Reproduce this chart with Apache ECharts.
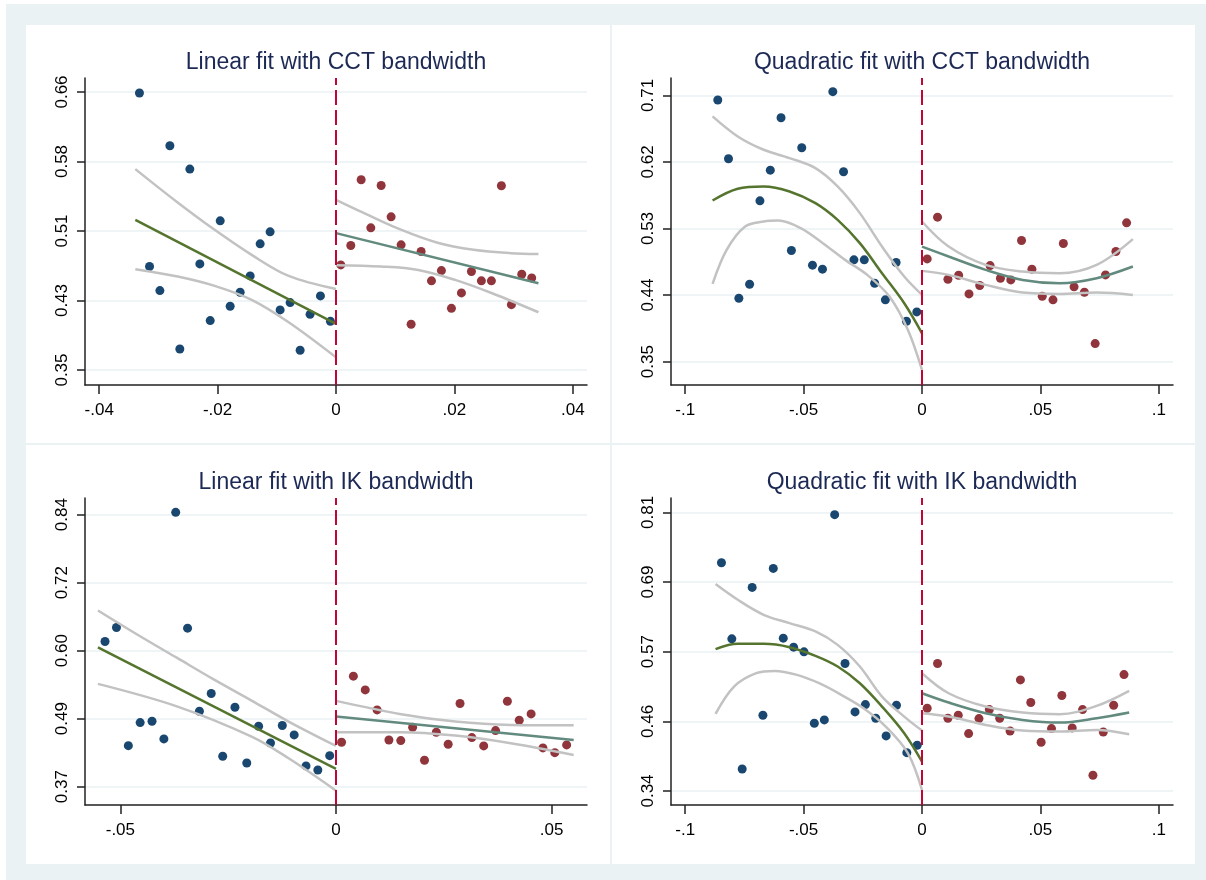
<!DOCTYPE html>
<html>
<head>
<meta charset="utf-8">
<script src="https://cdn.jsdelivr.net/npm/echarts@6/dist/echarts.min.js"></script>
<style>
  html, body { margin: 0; padding: 0; background: #fff; }
  #rd-chart { width: 1206px; height: 880px; }
</style>
</head>
<body>
<div id="rd-chart"></div>
<script>
// ---- data: [running variable, outcome] ----

// Panel 1: linear fit, CCT bandwidth
var p1Left = [[-0.0332,0.6589],[-0.0315,0.4654],[-0.02975,0.4386],[-0.02806,0.6001],[-0.02638,0.3734],[-0.02469,0.574],[-0.023,0.4683],[-0.02125,0.4051],[-0.01956,0.5163],[-0.01788,0.4211],[-0.01619,0.4367],[-0.0145,0.4549],[-0.01281,0.4907],[-0.01113,0.5041],[-0.00944,0.417],[-0.00775,0.4252],[-0.00606,0.372],[-0.00438,0.4121],[-0.00263,0.4326],[-0.00094,0.4043]];
var p1Right = [[0.00081,0.4672],[0.0025,0.4888],[0.00425,0.5621],[0.00588,0.5085],[0.00763,0.5558],[0.00931,0.5208],[0.011,0.4896],[0.01269,0.401],[0.01438,0.4821],[0.01613,0.4494],[0.01781,0.4609],[0.0195,0.4188],[0.02119,0.436],[0.02288,0.4598],[0.02456,0.4494],[0.02625,0.4494],[0.02794,0.5554],[0.02963,0.4229],[0.03138,0.4568],[0.03306,0.4527]];
var p1FitL = [[-0.0339,0.5175],[0,0.4014]];
var p1HiL = [[-0.0339,0.574],[-0.02675,0.5368],[-0.0205,0.5063],[-0.01425,0.4784],[-0.008,0.4549],[0,0.4404]];
var p1LoL = [[-0.0339,0.4624],[-0.02675,0.4542],[-0.0205,0.4438],[-0.01425,0.4282],[-0.008,0.4032],[0,0.3641]];
var p1FitR = [[0,0.5026],[0.0342,0.4468]];
var p1HiR = [[0,0.5398],[0.0045,0.5257],[0.01075,0.507],[0.017,0.4922],[0.02325,0.484],[0.0295,0.4803],[0.0342,0.4795]];
var p1LoR = [[0,0.4669],[0.007625,0.4654],[0.013875,0.4616],[0.020125,0.4505],[0.026375,0.4356],[0.0342,0.4144]];

// Panel 2: quadratic fit, CCT bandwidth
var p2Left = [[-0.08625,0.7037],[-0.08172,0.6243],[-0.07734,0.4357],[-0.07281,0.4547],[-0.06844,0.5674],[-0.06406,0.6089],[-0.05953,0.6798],[-0.05516,0.5002],[-0.05078,0.6392],[-0.04625,0.4804],[-0.04203,0.475],[-0.03766,0.715],[-0.03313,0.6067],[-0.02875,0.4876],[-0.02438,0.4876],[-0.02,0.456],[-0.01547,0.4335],[-0.01094,0.484],[-0.00656,0.4046],[-0.00219,0.4172]];
var p2Right = [[0.00219,0.4889],[0.00656,0.5453],[0.01094,0.4614],[0.01547,0.4668],[0.01984,0.4416],[0.02438,0.4529],[0.02875,0.4799],[0.03313,0.4628],[0.0375,0.4605],[0.04203,0.5138],[0.04641,0.475],[0.05078,0.4384],[0.05531,0.4335],[0.05969,0.5097],[0.06422,0.4511],[0.06859,0.4438],[0.07313,0.3744],[0.0775,0.4673],[0.08188,0.4989],[0.08641,0.5377]];
var p2FitL = [[-0.08844,0.5679],[-0.07781,0.5837],[-0.06688,0.5868],[-0.05594,0.5801],[-0.045,0.5643],[-0.03563,0.5417],[-0.02625,0.5102],[-0.01688,0.4695],[-0.0075,0.4289],[0,0.3883]];
var p2HiL = [[-0.08844,0.6816],[-0.07781,0.6545],[-0.06688,0.6365],[-0.05594,0.6252],[-0.045,0.6117],[-0.03563,0.5868],[-0.02625,0.5508],[-0.01688,0.5056],[-0.0075,0.465],[0,0.4402]];
var p2LoL = [[-0.08844,0.4551],[-0.0825,0.5011],[-0.07469,0.5327],[-0.06688,0.5395],[-0.06063,0.5408],[-0.05125,0.5305],[-0.04188,0.5102],[-0.0325,0.4876],[-0.02313,0.4673],[-0.01375,0.438],[-0.00594,0.3929],[0,0.3387]];
var p2FitR = [[0,0.5056],[0.01125,0.4921],[0.026875,0.4741],[0.0425,0.4605],[0.058125,0.456],[0.07375,0.4628],[0.08906,0.4786]];
var p2HiR = [[0,0.5395],[0.01125,0.5056],[0.026875,0.4808],[0.0425,0.4718],[0.058125,0.4695],[0.07375,0.4808],[0.08906,0.5156]];
var p2LoR = [[0,0.4727],[0.01125,0.4673],[0.026875,0.4538],[0.0425,0.4434],[0.058125,0.4416],[0.07375,0.4434],[0.08906,0.4402]];

// Panel 3: linear fit, IK bandwidth
var p3Left = [[-0.05356,0.6209],[-0.0509,0.6451],[-0.04815,0.4409],[-0.04541,0.4807],[-0.04266,0.483],[-0.03991,0.4525],[-0.03717,0.844],[-0.03442,0.6439],[-0.03167,0.5003],[-0.02893,0.5309],[-0.02627,0.4225],[-0.02343,0.5073],[-0.02069,0.4109],[-0.01794,0.4744],[-0.01519,0.4455],[-0.01245,0.4756],[-0.0097,0.4594],[-0.00695,0.4058],[-0.00421,0.3988],[-0.00146,0.4236]];
var p3Right = [[0.00129,0.4467],[0.00403,0.5609],[0.00678,0.5372],[0.00953,0.5026],[0.01227,0.4507],[0.01502,0.4496],[0.01777,0.4726],[0.02052,0.4156],[0.02326,0.464],[0.02601,0.4432],[0.02876,0.5136],[0.0315,0.4548],[0.03425,0.4404],[0.037,0.4669],[0.03974,0.5176],[0.04249,0.4848],[0.04524,0.4957],[0.04798,0.4369],[0.05073,0.4288],[0.05348,0.4421]];
var p3FitL = [[-0.0552,0.6105],[0,0.4006]];
var p3HiL = [[-0.0552,0.6745],[-0.04532,0.6295],[-0.03674,0.592],[-0.02815,0.5545],[-0.01957,0.5188],[-0.01099,0.4825],[0,0.4404]];
var p3LoL = [[-0.0552,0.5476],[-0.03674,0.5084],[-0.01957,0.4565],[-0.01099,0.419],[0,0.3631]];
var p3FitR = [[0,0.4911],[0.05511,0.4507]];
var p3HiR = [[0,0.5182],[0.01476,0.4957],[0.02764,0.4825],[0.04052,0.4767],[0.05511,0.4761]];
var p3LoR = [[0,0.464],[0.01476,0.464],[0.02764,0.4582],[0.04052,0.445],[0.05511,0.4248]];

// Panel 4: quadratic fit, IK bandwidth
var p4Left = [[-0.08469,0.725],[-0.08031,0.5967],[-0.07594,0.3772],[-0.07172,0.6834],[-0.06719,0.4678],[-0.06281,0.7154],[-0.05859,0.5978],[-0.05422,0.5826],[-0.04984,0.5747],[-0.04547,0.4543],[-0.04125,0.4599],[-0.03688,0.8061],[-0.0325,0.555],[-0.02828,0.4734],[-0.02391,0.4858],[-0.01953,0.4627],[-0.01516,0.4329],[-0.01078,0.4847],[-0.00641,0.4047],[-0.00203,0.4171]];
var p4Right = [[0.00219,0.4796],[0.00656,0.555],[0.01094,0.4627],[0.01531,0.4678],[0.01969,0.4368],[0.02406,0.4621],[0.02844,0.4773],[0.03281,0.4627],[0.03719,0.4413],[0.04156,0.5274],[0.04594,0.4892],[0.05031,0.4222],[0.05469,0.4453],[0.05906,0.501],[0.06344,0.4464],[0.06781,0.4773],[0.07219,0.3665],[0.07656,0.4396],[0.08094,0.4847],[0.08531,0.5364]];
var p4FitL = [[-0.08719,0.5792],[-0.07781,0.5882],[-0.06688,0.5882],[-0.05594,0.5826],[-0.045,0.568],[-0.03563,0.55],[-0.02625,0.5218],[-0.01688,0.4824],[-0.0075,0.4374],[0,0.3895]];
var p4HiL = [[-0.08719,0.689],[-0.07781,0.6625],[-0.06688,0.6372],[-0.05594,0.6231],[-0.045,0.6091],[-0.03563,0.5865],[-0.02625,0.55],[-0.01688,0.4993],[-0.0075,0.4655],[0,0.4419]];
var p4LoL = [[-0.08719,0.47],[-0.07938,0.5162],[-0.07,0.5387],[-0.06219,0.5426],[-0.05281,0.5359],[-0.04344,0.5218],[-0.03406,0.5021],[-0.02469,0.4796],[-0.01531,0.4486],[-0.00594,0.4036],[0,0.3417]];
var p4FitR = [[0,0.5049],[0.01125,0.4892],[0.026875,0.4712],[0.0425,0.4599],[0.058125,0.4554],[0.07375,0.4627],[0.0875,0.4723]];
var p4HiR = [[0,0.5387],[0.01125,0.5049],[0.026875,0.4824],[0.0425,0.4723],[0.058125,0.4695],[0.07375,0.4835],[0.0875,0.5089]];
var p4LoR = [[0,0.4712],[0.01125,0.4655],[0.026875,0.4515],[0.0425,0.4419],[0.058125,0.4402],[0.07375,0.443],[0.0875,0.4357]];

// tick values
var p1XTicks = [-0.04, -0.02, 0, 0.02, 0.04];
var p1YTicks = [0.35, 0.4275, 0.505, 0.5825, 0.66];
var p2XTicks = [-0.1, -0.05, 0, 0.05, 0.1];
var p2YTicks = [0.35, 0.44, 0.53, 0.62, 0.71];
var p3XTicks = [-0.05, 0, 0.05];
var p3YTicks = [0.37, 0.4875, 0.605, 0.7225, 0.84];
var p4XTicks = [-0.1, -0.05, 0, 0.05, 0.1];
var p4YTicks = [0.34, 0.4575, 0.575, 0.6925, 0.81];

var titles = [
  "Linear fit with CCT bandwidth",
  "Quadratic fit with CCT bandwidth",
  "Linear fit with IK bandwidth",
  "Quadratic fit with IK bandwidth"
];

// ---- chart ----
var NAVY = "#1a476f", MAROON = "#90353b", GREEN = "#55752f", TEAL = "#628a7e";
var CI = "#c2c2c2", CUT = "#c10534", GRIDLINE = "#eaf2f3", BG = "#eaf2f3";
var FONT = "Liberation Sans, Arial, sans-serif";

var panels = [
  { left: p1Left, right: p1Right, fitL: p1FitL, hiL: p1HiL, loL: p1LoL, fitR: p1FitR, hiR: p1HiR, loR: p1LoR,
    xTicks: p1XTicks, yTicks: p1YTicks, xRange: [-0.0424, 0.0424], yRange: [0.3333, 0.6756], curved: false },
  { left: p2Left, right: p2Right, fitL: p2FitL, hiL: p2HiL, loL: p2LoL, fitR: p2FitR, hiR: p2HiR, loR: p2LoR,
    xTicks: p2XTicks, yTicks: p2YTicks, xRange: [-0.106, 0.106], yRange: [0.3184, 0.7335], curved: true },
  { left: p3Left, right: p3Right, fitL: p3FitL, hiL: p3HiL, loL: p3LoL, fitR: p3FitR, hiR: p3HiR, loR: p3LoR,
    xTicks: p3XTicks, yTicks: p3YTicks, xRange: [-0.0582, 0.0582], yRange: [0.3383, 0.8688], curved: false },
  { left: p4Left, right: p4Right, fitL: p4FitL, hiL: p4HiL, loL: p4LoL, fitR: p4FitR, hiR: p4HiR, loR: p4LoR,
    xTicks: p4XTicks, yTicks: p4YTicks, xRange: [-0.106, 0.106], yRange: [0.3164, 0.8342], curved: true }
];

var gridPos = [
  { left: 85, top: 78 }, { left: 671, top: 78 },
  { left: 85, top: 498 }, { left: 671, top: 498 }
];

function fmtX(v) {
  return String(+v.toFixed(3)).replace(/^(-?)0\./, "$1.");
}
function fmtY(v) {
  return v.toFixed(2);
}

var grid = [], xAxis = [], yAxis = [], series = [], title = [];

panels.forEach(function (p, i) {
  var g = gridPos[i];
  grid.push({ left: g.left, top: g.top, width: 502, height: 307, containLabel: false });
  title.push({
    text: titles[i], left: g.left + 251, top: g.top - 27, textAlign: "center", padding: 0,
    textStyle: { fontFamily: FONT, fontSize: 23, fontWeight: "normal", color: "#1c2955" }
  });
  xAxis.push({
    gridIndex: i, type: "value", min: p.xRange[0], max: p.xRange[1],
    axisLine: { onZero: false, lineStyle: { color: "#222", width: 1.5 } },
    axisTick: { show: true, length: 9, customValues: p.xTicks, lineStyle: { color: "#222", width: 1.5 } },
    axisLabel: { customValues: p.xTicks, formatter: fmtX, margin: 17, color: "#000",
      fontFamily: FONT, fontSize: 17 },
    splitLine: { show: false }
  });
  yAxis.push({
    gridIndex: i, type: "value", min: p.yRange[0], max: p.yRange[1],
    axisLine: { show: true, onZero: false, lineStyle: { color: "#222", width: 1.5 } },
    axisTick: { show: true, length: 8, customValues: p.yTicks, lineStyle: { color: "#222", width: 1.5 } },
    axisLabel: { customValues: p.yTicks, formatter: fmtY, rotate: 90, margin: 14, color: "#000",
      fontFamily: FONT, fontSize: 17 },
    splitLine: { show: true, lineStyle: { color: GRIDLINE, width: 1.5 } }
  });

  function scatter(data, color) {
    return { type: "scatter", xAxisIndex: i, yAxisIndex: i, data: data, symbolSize: 9,
      itemStyle: { color: color, opacity: 1 }, silent: true };
  }
  // fitted lines are straight in the linear panels, CI bands are always curved
  function line(data, color, smooth) {
    return { type: "line", xAxisIndex: i, yAxisIndex: i, data: data, showSymbol: false,
      smooth: smooth ? 0.35 : false, lineStyle: { color: color, width: 2.5 }, silent: true };
  }

  var blue = scatter(p.left, NAVY);
  blue.markLine = {
    silent: true, symbol: ["none", "none"], label: { show: false },
    lineStyle: { color: CUT, width: 2, type: [15, 5] },
    data: [{ xAxis: 0 }]
  };
  series.push(blue, scatter(p.right, MAROON));
  series.push(line(p.hiL, CI, true), line(p.loL, CI, true), line(p.fitL, GREEN, p.curved));
  series.push(line(p.hiR, CI, true), line(p.loR, CI, true), line(p.fitR, TEAL, p.curved));
});

var chart = echarts.init(document.getElementById("rd-chart"));
chart.setOption({
  animation: false,
  backgroundColor: "#fff",
  graphic: [
    { type: "rect", z: -10, shape: { x: 6, y: 4, width: 1200, height: 876 }, style: { fill: BG } },
    { type: "rect", z: -9, shape: { x: 26, y: 25, width: 584, height: 418 }, style: { fill: "#fff" } },
    { type: "rect", z: -9, shape: { x: 612, y: 25, width: 583, height: 418 }, style: { fill: "#fff" } },
    { type: "rect", z: -9, shape: { x: 26, y: 445, width: 584, height: 419 }, style: { fill: "#fff" } },
    { type: "rect", z: -9, shape: { x: 612, y: 445, width: 583, height: 419 }, style: { fill: "#fff" } }
  ],
  title: title,
  grid: grid,
  xAxis: xAxis,
  yAxis: yAxis,
  series: series
});

window.addEventListener("resize", function () {
  chart.resize();
});
</script>
</body>
</html>
